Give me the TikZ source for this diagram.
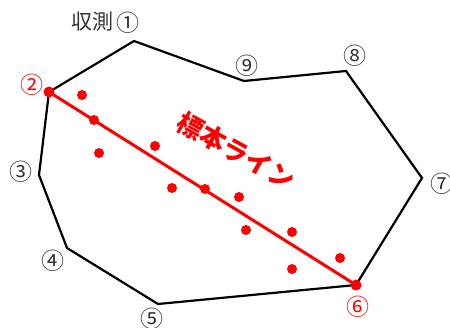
\documentclass[tikz,border=0pt]{standalone}
\usepackage{fontspec}
\setmainfont{Noto Sans CJK JP}
\newfontfamily\jp{Noto Sans CJK JP}
\begin{document}
\begin{tikzpicture}[x=1pt,y=-1pt,
  poly/.style={line width=2.2pt,black,line join=miter},
  redline/.style={line width=3pt,red},
  dot/.style={circle,fill=red,inner sep=0pt,minimum size=10pt},
  bigdot/.style={circle,fill=red,inner sep=0pt,minimum size=11pt},
  lbl/.style={font=\jp\fontsize{23}{23}\selectfont,text=black!80,inner sep=0pt},
  clbl/.style={font=\jp\fontsize{21}{21}\selectfont,text=black!80,inner sep=0pt},
  rlbl/.style={font=\jp\fontsize{23}{23}\selectfont,text=red,inner sep=0pt},
  ttl/.style={font=\jp\bfseries\fontsize{26}{26}\selectfont,text=red,inner sep=0pt}]
\useasboundingbox (0,0) rectangle (450,328);
\coordinate (p1) at (134,41);
\coordinate (p9) at (244,81);
\coordinate (p8) at (346,71);
\coordinate (p7) at (422,178);
\coordinate (p6) at (356,285);
\coordinate (p5) at (158,304);
\coordinate (p4) at (67,248);
\coordinate (p3) at (39,175);
\coordinate (p2) at (49,92);
\draw[poly] (p1) -- (p9) -- (p8) -- (p7) -- (p6) -- (p5) -- (p4) -- (p3) -- (p2) -- cycle;
\draw[redline] (p2) -- (p6);
\node[bigdot] (d2) at (p2) {};
\node[bigdot] (d6) at (p6) {};
\node[dot] (l1) at (94,120) {};
\node[dot] (l2) at (205,189) {};
\node[dot] (a1) at (82,95) {};
\node[dot] (a2) at (99,153) {};
\node[dot] (a3) at (155,146) {};
\node[dot] (a4) at (172,188) {};
\node[dot] (a5) at (239,197) {};
\node[dot] (a6) at (246,230) {};
\node[dot] (a7) at (292,232) {};
\node[dot] (a8) at (340,258) {};
\node[dot] (a9) at (292,269) {};
\node[clbl,anchor=east] (t1a) at (114,22) {収測};
\node[lbl] (t1) at (128,23) {①};
\node[lbl] (t9) at (247,66) {⑨};
\node[lbl] (t8) at (355,56) {⑧};
\node[lbl] (t7) at (442,184) {⑦};
\node[rlbl] (t6) at (358,307) {⑥};
\node[lbl] (t5) at (152,319) {⑤};
\node[lbl] (t4) at (53,261) {④};
\node[lbl] (t3) at (21,172) {③};
\node[rlbl] (t2) at (32,85) {②};
\node[ttl,rotate=-29] (title) at (236,151) {標本ライン};
\end{tikzpicture}
\end{document}
